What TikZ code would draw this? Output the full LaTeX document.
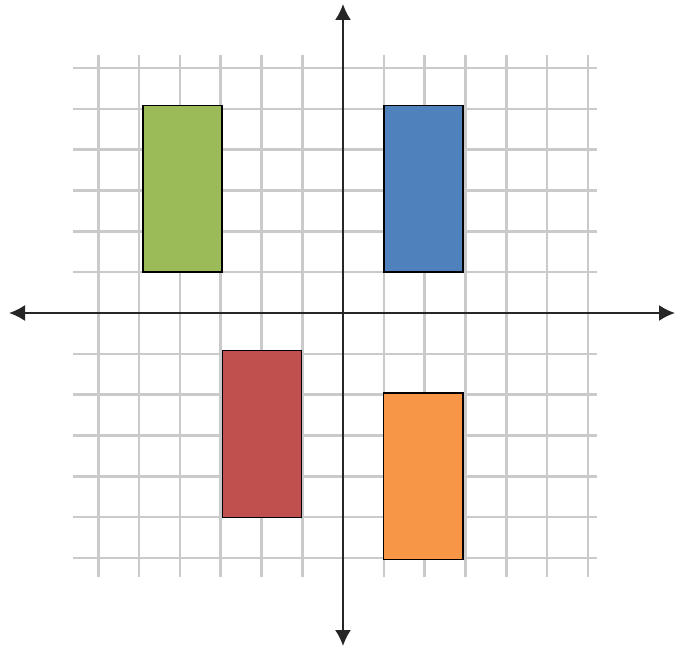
\documentclass[tikz,border=0pt]{standalone}
\usetikzlibrary{arrows.meta}
\definecolor{gridgray}{HTML}{CACACA}
\definecolor{boxgreen}{HTML}{9BBB59}
\definecolor{boxblue}{HTML}{4F81BD}
\definecolor{boxred}{HTML}{C0504D}
\definecolor{boxorange}{HTML}{F79646}
\begin{document}
\begin{tikzpicture}[x=1pt,y=-1pt,
  gridline/.style={draw=gridgray,line width=2.6pt},
  axisline/.style={draw=black!85,line width=1.8pt,-{Latex[length=16pt,width=16pt]}},
  quad/.style={draw=black,line width=1.5pt}]
\useasboundingbox (0,0) rectangle (675,647);
% grid
\foreach \k in {-6,...,6}{
  \draw[gridline] ({343+\k*40.8},55) -- ({343+\k*40.8},577);
  \draw[gridline] (73,{313+\k*40.8}) -- (597,{313+\k*40.8});
}
% rectangles
\draw[quad,fill=boxgreen] (143,105.5) rectangle (222,272);
\draw[quad,fill=boxblue] (384,105.5) rectangle (463,272);
\draw[quad,fill=boxred] (222.5,350.5) rectangle (301.5,517.5);
\draw[quad,fill=boxorange] (383.5,393) rectangle (463,559.5);
% axes
\coordinate (O) at (343,313);
\coordinate (L) at (9,313);
\coordinate (R) at (675,313);
\coordinate (T) at (343,4);
\coordinate (B) at (343,646);
\draw[axisline] (O) -- (L);
\draw[axisline] (O) -- (R);
\draw[axisline] (O) -- (T);
\draw[axisline] (O) -- (B);
\end{tikzpicture}
\end{document}
